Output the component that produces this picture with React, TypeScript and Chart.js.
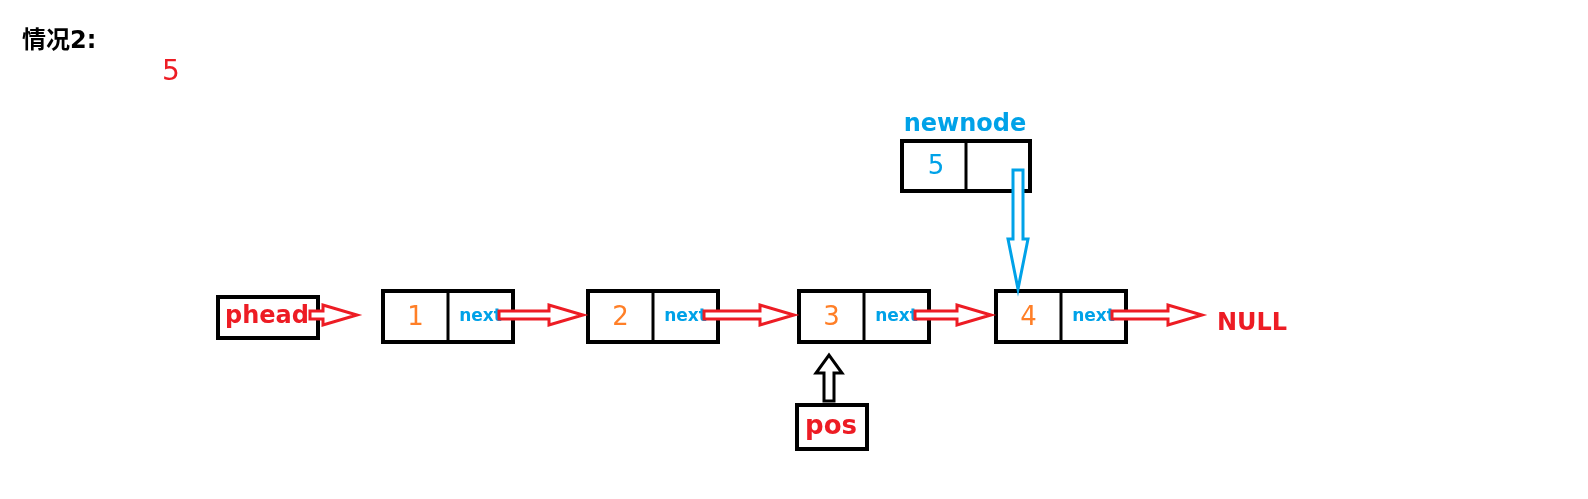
import { useEffect, useRef } from "react";
import { Chart, registerables } from "chart.js";

Chart.register(...registerables);

// list contents
const nodeValues = ["1", "2", "3", "4"];
const nextLabel = "next";
const newNodeValue = "5";
const titleText = "情况2:";
const headLabel = "phead";
const posLabel = "pos";
const tailLabel = "NULL";
const newNodeLabel = "newnode";

// layout in plot units (x 0..1588, y 0..499 top-down)
const nodeLeft = [383, 588, 799, 996];
const nodeTop = 291;
const nodeW = 130;
const nodeH = 51;

const RED = "#ed1c24";
const BLUE = "#00a2e8";
const ORANGE = "#ff7f27";
const FONT = "'DejaVu Sans', 'Noto Sans CJK SC', sans-serif";

type Pt = { x: number; y: number };

function hollowArrow(ctx: CanvasRenderingContext2D, a: Pt, b: Pt, color: string, shaft: number, head: number, headLen: number) {
  const dx = b.x - a.x, dy = b.y - a.y;
  const len = Math.hypot(dx, dy);
  const ux = dx / len, uy = dy / len;
  const nx = -uy, ny = ux;
  const hb = { x: b.x - ux * headLen, y: b.y - uy * headLen };
  const p = (o: Pt, n: number) => [o.x + nx * n, o.y + ny * n];
  const pts = [p(a, shaft / 2), p(hb, shaft / 2), p(hb, head / 2), [b.x, b.y], p(hb, -head / 2), p(hb, -shaft / 2), p(a, -shaft / 2)];
  ctx.beginPath();
  pts.forEach(([x, y], i) => (i ? ctx.lineTo(x, y) : ctx.moveTo(x, y)));
  ctx.closePath();
  ctx.fillStyle = "#fff";
  ctx.fill();
  ctx.strokeStyle = color;
  ctx.lineWidth = 3;
  ctx.stroke();
}

const diagram = {
  id: "diagram",
  afterDatasetsDraw(chart: Chart) {
    const { ctx } = chart;
    const sx = chart.scales.x, sy = chart.scales.y;
    const P = (x: number, y: number) => ({ x: sx.getPixelForValue(x), y: sy.getPixelForValue(y) });
    const rect = (x: number, y: number, w: number, h: number) => {
      const a = P(x, y), b = P(x + w, y + h);
      ctx.strokeStyle = "#000";
      ctx.lineWidth = 4;
      ctx.strokeRect(a.x, a.y, b.x - a.x, b.y - a.y);
    };
    const text = (s: string, x: number, y: number, color: string, size: number, bold = true, align: CanvasTextAlign = "center") => {
      const p = P(x, y);
      ctx.fillStyle = color;
      ctx.font = `${bold ? "bold " : ""}${size}px ${FONT}`;
      ctx.textAlign = align;
      ctx.textBaseline = "middle";
      ctx.fillText(s, p.x, p.y);
    };
    const line = (x1: number, y1: number, x2: number, y2: number) => {
      const a = P(x1, y1), b = P(x2, y2);
      ctx.beginPath();
      ctx.moveTo(a.x, a.y);
      ctx.lineTo(b.x, b.y);
      ctx.strokeStyle = "#000";
      ctx.lineWidth = 3;
      ctx.stroke();
    };
    ctx.save();
    text(titleText, 22, 42, "#000", 24, true, "left");
    text(newNodeValue, 171, 73, RED, 28, false);

    // new node
    text(newNodeLabel, 965, 125, BLUE, 24);
    rect(902, 141, 128, 50);
    line(966, 141, 966, 191);
    text(newNodeValue, 936, 167, BLUE, 26, false);

    // head
    rect(218, 297, 100, 41);
    text(headLabel, 267, 317, RED, 24);

    const cy = nodeTop + nodeH / 2;
    nodeValues.forEach((v, i) => {
      const l = nodeLeft[i];
      rect(l, nodeTop, nodeW, nodeH);
      line(l + nodeW / 2, nodeTop, l + nodeW / 2, nodeTop + nodeH);
      text(v, l + nodeW / 4, cy + 2, ORANGE, 26, false);
      text(nextLabel, l + (nodeW * 3) / 4, cy, BLUE, 17);
    });

    // red arrows along the list
    const starts = [310, ...nodeLeft.map((l) => l + nodeW - 14)];
    const ends = [357, ...nodeLeft.slice(1).map((l) => l - 5), 1202];
    starts.forEach((s, i) => hollowArrow(ctx, P(s, 315), P(ends[i], 315), RED, 8, 20, 34));
    text(tailLabel, 1252, 324, RED, 24);

    // pos
    rect(797, 405, 70, 44);
    text(posLabel, 831, 427, RED, 26);
    hollowArrow(ctx, P(829, 401), P(829, 355), "#000", 10, 26, 18);

    // newnode.next -> node 4
    hollowArrow(ctx, P(1018, 170), P(1018, 289), BLUE, 10, 20, 50);
    ctx.restore();
  },
};

export default function App() {
  const ref = useRef<HTMLCanvasElement>(null);
  useEffect(() => {
    if (!ref.current) return;
    const chart = new Chart(ref.current, {
      type: "scatter",
      data: { datasets: [{ data: nodeLeft.map((x) => ({ x, y: nodeTop })), pointRadius: 0 }] },
      options: {
        animation: false,
        responsive: false,
        layout: { padding: 0 },
        events: [],
        scales: {
          x: { type: "linear", min: 0, max: 1588, display: false },
          y: { type: "linear", min: 0, max: 499, reverse: true, display: false },
        },
        plugins: { legend: { display: false }, tooltip: { enabled: false } },
      },
      plugins: [diagram],
    });
    return () => chart.destroy();
  }, []);
  return (
    <div style={{ position: "fixed", left: 0, top: 0, width: 1588, height: 499, background: "#fff" }}>
      <canvas ref={ref} width={1588} height={499} />
    </div>
  );
}
